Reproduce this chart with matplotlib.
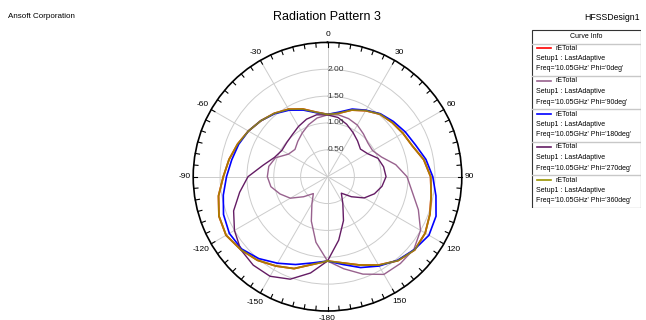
#!/usr/bin/env python3
"""Diagrama de radiacion rETotal (corte en theta) para varios planos phi."""

import matplotlib

matplotlib.use("Agg")

import matplotlib.pyplot as plt
import numpy as np
from matplotlib.patches import Rectangle

plt.rcParams["font.family"] = ["Liberation Sans", "DejaVu Sans"]

# Angulo theta en grados, de -180 a 180 cada 10
THETA_DEG = list(range(-180, 181, 10))

# rETotal para cada corte phi
PHI_0 = [1.57, 1.66, 1.82, 1.92, 2.03, 2.11, 2.18, 2.15, 2.06, 1.94,
         1.86, 1.78, 1.70, 1.62, 1.54, 1.45, 1.34, 1.22, 1.16, 1.20,
         1.32, 1.42, 1.52, 1.57, 1.62, 1.68, 1.82, 1.92, 1.96, 2.03,
         2.10, 2.12, 2.04, 1.90, 1.75, 1.63, 1.57]
PHI_90 = [1.57, 1.24, 0.88, 0.58, 0.41, 0.58, 0.80, 0.94, 1.07, 1.12,
          1.11, 1.03, 0.84, 0.79, 0.86, 0.94, 1.03, 1.11, 1.15, 1.17,
          1.15, 1.11, 1.04, 0.98, 0.97, 1.07, 1.29, 1.48, 1.60, 1.80,
          2.00, 2.10, 2.11, 2.10, 1.93, 1.74, 1.57]
PHI_180 = [1.57, 1.63, 1.74, 1.86, 1.99, 2.09, 2.11, 2.06, 1.97, 1.88,
           1.81, 1.76, 1.70, 1.62, 1.53, 1.43, 1.32, 1.21, 1.16, 1.22,
           1.34, 1.43, 1.53, 1.60, 1.67, 1.74, 1.86, 1.96, 2.05, 2.15,
           2.18, 2.11, 2.03, 1.92, 1.80, 1.66, 1.57]
PHI_270 = [1.57, 1.82, 2.03, 2.14, 2.15, 2.11, 2.00, 1.86, 1.66, 1.48,
           1.22, 1.05, 0.98, 0.99, 1.02, 1.08, 1.14, 1.17, 1.15, 1.12,
           1.04, 0.95, 0.87, 0.80, 0.86, 1.00, 1.06, 1.09, 1.03, 0.93,
           0.79, 0.58, 0.40, 0.57, 0.87, 1.20, 1.57]
PHI_360 = list(PHI_0)

# (phi, valores, color, grosor, alpha)
SERIES = [
    ("0deg", PHI_0, "#ff0000", 1.3, 1.0),
    ("90deg", PHI_90, "#98628e", 1.0, 1.0),
    ("180deg", PHI_180, "#0000ff", 1.2, 1.0),
    ("270deg", PHI_270, "#641c64", 1.0, 1.0),
    ("360deg", PHI_360, "#9a9400", 1.3, 0.85),
]

THETA_LABELS = ["0", "30", "60", "90", "120", "150",
                "-180", "-150", "-120", "-90", "-60", "-30"]
R_RINGS = [0.5, 1.0, 1.5, 2.0]
R_MAX = 2.5

W, H = 646, 320
RADIUS_PX = 134.3


def draw_polar(fig):
    ax = fig.add_axes([(327.5 - RADIUS_PX) / W, 9.0 / H, 2 * RADIUS_PX / W,
                       2 * RADIUS_PX / H], projection="polar")
    ax.set_theta_zero_location("N")
    ax.set_theta_direction(-1)
    ax.set_ylim(0, R_MAX)

    th = np.deg2rad(THETA_DEG)
    for _, vals, color, lw, alpha in SERIES:
        ax.plot(th, vals, color=color, lw=lw, alpha=alpha, zorder=3)

    ticks = np.arange(0, 360, 30)
    ax.set_xticks(np.deg2rad(ticks))
    ax.set_xticklabels([])
    ax.tick_params(axis="x", length=0)
    ax.set_yticks(R_RINGS)
    ax.set_yticklabels([])
    ax.grid(True, color="#cccccc", lw=0.7)
    ax.spines["polar"].set_linewidth(1.2)

    # etiquetas de theta pegadas al borde exterior
    px_per_unit = RADIUS_PX / R_MAX
    for deg, label in zip(ticks, THETA_LABELS):
        a = np.deg2rad(deg)
        half_w = 1.65 * len(label.replace("-", "")) + (1.0 if "-" in label else 0)
        ext = half_w * abs(np.sin(a)) + 3.5 * abs(np.cos(a))
        r_txt = R_MAX + (4.5 + ext) / px_per_unit
        ax.text(a, r_txt, label, fontsize=6, ha="center", va="center",
                clip_on=False)

    # marcas cada 5 grados hacia dentro del circulo exterior
    for a in np.deg2rad(np.arange(0, 360, 5)):
        ax.plot([a, a], [R_MAX - 0.08, R_MAX], color="black", lw=0.8,
                clip_on=False, zorder=5)

    for r in R_RINGS:
        ax.text(0, r, f"{r:.2f}", fontsize=6, ha="left", va="center",
                color="#333333", zorder=4)
    return ax


def draw_legend(fig):
    lw_px, lh_px = 110, 179
    lg = fig.add_axes([531 / W, (H - 29 - lh_px) / H, lw_px / W, lh_px / H])
    lg.set_xlim(0, lw_px)
    lg.set_ylim(lh_px, 0)
    lg.axis("off")
    lg.add_patch(Rectangle((0.5, 0.5), lw_px - 1, lh_px - 1, fill=False,
                           ec="#333333", lw=0.8))
    lg.text(lw_px / 2, 8, "Curve Info", fontsize=5, ha="center", va="center")
    lg.plot([1, lw_px - 1], [14.5, 14.5], color="#c8c8c8", lw=1.0)
    for i, (phi, _, color, _, _) in enumerate(SERIES):
        y0 = 19 + 33 * i
        lg.plot([6, 20], [y0, y0], color=color, lw=1.2)
        lg.text(25, y0, "rETotal", fontsize=5, va="center")
        lg.text(5, y0 + 10.5, "Setup1 : LastAdaptive", fontsize=5, va="center")
        lg.text(5, y0 + 21, f"Freq='10.05GHz' Phi='{phi}'", fontsize=5, va="center")
        if i < len(SERIES) - 1:
            lg.plot([1, lw_px - 1], [y0 + 27.5, y0 + 27.5], color="#c8c8c8", lw=1.0)


def main():
    fig = plt.figure(figsize=(W / 100, H / 100), dpi=100)
    fig.text(8 / W, 1 - 17 / H, "Ansoft Corporation", fontsize=5.8, va="center")
    fig.text(327 / W, 1 - 17 / H, "Radiation Pattern 3", fontsize=9,
             ha="center", va="center")
    fig.text(640 / W, 1 - 17 / H, "HFSSDesign1", fontsize=6.3,
             ha="right", va="center")
    draw_polar(fig)
    draw_legend(fig)
    fig.savefig("out.png", dpi=100)
    plt.close(fig)


if __name__ == "__main__":
    main()
